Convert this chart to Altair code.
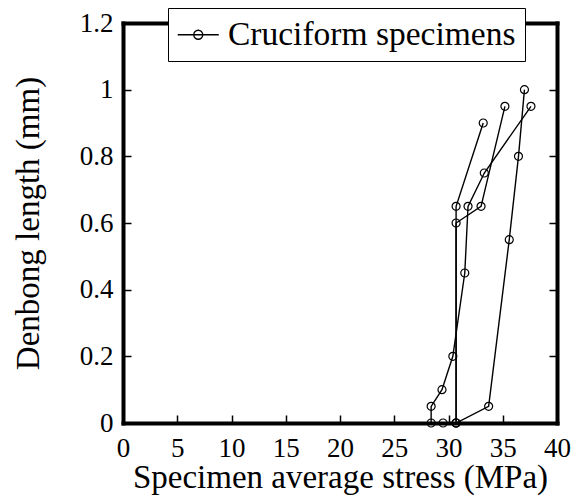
import altair as alt
import pandas as pd

# ---- data ----
specimens = ["S1", "S2", "S3", "S4"]
s1_stress = [28.4, 28.4, 29.4, 30.4, 31.5, 31.8, 33.3, 37.6]
s1_debond = [0.0, 0.05, 0.10, 0.20, 0.45, 0.65, 0.75, 0.95]
s2_stress = [30.7, 30.7, 33.2]
s2_debond = [0.0, 0.65, 0.90]
s3_stress = [30.7, 30.7, 33.0, 35.2]
s3_debond = [0.0, 0.60, 0.65, 0.95]
s4_stress = [29.5, 30.7, 33.7, 35.6, 36.45, 37.0]
s4_debond = [0.0, 0.0, 0.05, 0.55, 0.80, 1.0]

x_ticks = [0, 5, 10, 15, 20, 25, 30, 35, 40]
y_ticks = [0, 0.2, 0.4, 0.6, 0.8, 1, 1.2]
legend_label = "Cruciform specimens"
x_title = "Specimen average stress (MPa)"
y_title = "Denbong length (mm)"

rows = []
for sid, xs, ys in zip(specimens,
                       [s1_stress, s2_stress, s3_stress, s4_stress],
                       [s1_debond, s2_debond, s3_debond, s4_debond]):
    for i, (xv, yv) in enumerate(zip(xs, ys)):
        rows.append({"specimen": sid, "idx": i, "stress": xv, "debond": yv,
                     "label": legend_label})
df = pd.DataFrame(rows)

FONT = "'Liberation Serif', 'Times New Roman', Times, 'DejaVu Serif', serif"
W, H = 434, 400

xscale = alt.Scale(domain=[0, 40], nice=False, zero=True)
yscale = alt.Scale(domain=[0, 1.2], nice=False, zero=True)

# axis carrying labels and titles (bottom / left), plus frame lines
x_main = alt.Axis(orient="bottom", values=x_ticks, ticks=False, tickSize=0,
                  domain=True, domainWidth=4, domainColor="black", domainCap="square",
                  labelFont=FONT, labelFontSize=27, labelColor="black", labelPadding=12,
                  labelFlush=False, labelOverlap=False, grid=False,
                  title=x_title, titleFont=FONT, titleFontSize=33, titleFontWeight="normal",
                  titleColor="black", titleY=64, titleBaseline="alphabetic")
y_main = alt.Axis(orient="left", values=y_ticks, format="~g", ticks=False, tickSize=0,
                  domain=True, domainWidth=4, domainColor="black", domainCap="square",
                  labelFont=FONT, labelFontSize=27, labelColor="black", labelPadding=10,
                  labelFlush=False, labelOverlap=False, grid=False,
                  title=y_title, titleFont=FONT, titleFontSize=33, titleFontWeight="normal",
                  titleColor="black", titleX=-95, titleBaseline="middle", titleAngle=270)

# inward ticks on bottom and left edges
x_ticks_in = alt.Axis(orient="top", offset=-H, values=x_ticks, ticks=True, tickSize=8,
                      tickWidth=1.5, tickColor="black", labels=False, domain=False,
                      grid=False, title="")
y_ticks_in = alt.Axis(orient="right", offset=-W, values=y_ticks, ticks=True, tickSize=8,
                      tickWidth=1.5, tickColor="black", labels=False, domain=False,
                      grid=False, title="")

# top frame (no ticks) and right frame with inward ticks
x_top = alt.Axis(orient="top", values=x_ticks, ticks=False, labels=False, domain=True,
                 domainWidth=4, domainColor="black", domainCap="square", grid=False, title="")
y_right = alt.Axis(orient="left", offset=-W, values=y_ticks, ticks=True, tickSize=8,
                   tickWidth=1.5, tickColor="black", labels=False, domain=True,
                   domainWidth=4, domainColor="black", domainCap="square", grid=False, title="")

sym_path = ("M-1.224,0L1.224,0M-0.269,0A0.269,0.269,0,1,1,0.269,0"
            "A0.269,0.269,0,1,1,-0.269,0")

legend = alt.Legend(orient="none", legendX=45, legendY=-15, padding=9.25,
                    symbolType=sym_path, symbolSize=33.5 ** 2, symbolOffset=3.5,
                    symbolStrokeWidth=1.3, symbolStrokeColor="black",
                    symbolFillColor="transparent",
                    labelFont=FONT, labelFontSize=33.5, labelColor="black",
                    labelOffset=12.25, labelLimit=500,
                    strokeColor="black", fillColor="white", cornerRadius=0)

base = alt.Chart(df)

lines = base.mark_line(strokeWidth=1.4).encode(
    x=alt.X("stress:Q", scale=xscale, axis=x_main),
    y=alt.Y("debond:Q", scale=yscale, axis=y_main),
    detail="specimen:N",
    order="idx:Q",
    color=alt.Color("label:N", scale=alt.Scale(range=["black"]), legend=legend, title=None),
)

points = base.mark_point(shape="circle", filled=False, size=64, strokeWidth=1.2,
                         color="black", opacity=1).encode(
    x=alt.X("stress:Q", scale=xscale, axis=x_ticks_in),
    y=alt.Y("debond:Q", scale=yscale, axis=y_ticks_in),
)

frame = base.mark_point(opacity=0).encode(
    x=alt.X("stress:Q", scale=xscale, axis=x_top),
    y=alt.Y("debond:Q", scale=yscale, axis=y_right),
)

chart = alt.layer(lines, points, frame).resolve_axis(
    x="independent", y="independent"
).properties(
    width=W, height=H,
    autosize=alt.AutoSizeParams(type="none"),
    padding={"left": 115, "top": 15, "right": 17, "bottom": 75},
    background="white",
).configure_view(strokeWidth=0)

chart.save("out.html", embed_options={"renderer": "svg", "actions": False})
